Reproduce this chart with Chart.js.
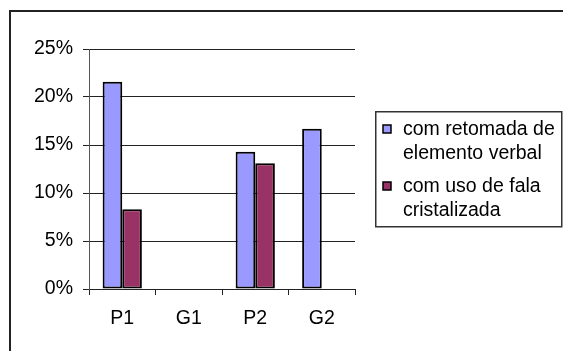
<!DOCTYPE html>
<html lang="pt">
<head>
    <meta charset="UTF-8">
    <title>Retomada de elemento verbal e fala cristalizada</title>
    <style>
        html, body {
            margin: 0;
            padding: 0;
            background: #ffffff;
        }
        .chart-box {
            position: relative;
            width: 563px;
            height: 351px;
        }
    </style>
    <script src="https://cdn.jsdelivr.net/npm/chart.js"></script>
</head>
<body>
    <div class="chart-box">
        <canvas id="grafico" width="563" height="351"></canvas>
    </div>

    <script>
        // grupos e percentuais
        const categorias = ['P1', 'G1', 'P2', 'G2'];
        const comRetomada = [21.6, 0, 14.3, 16.7];
        const comFalaCristalizada = [8.3, 0, 13.1, 0];
        const ticksY = [0, 5, 10, 15, 20, 25];

        // rótulos da legenda, quebrados em duas linhas
        const rotulos = [
            ['com retomada de', 'elemento verbal'],
            ['com uso de fala', 'cristalizada']
        ];

        const fonte = { family: "'Liberation Sans', Arial, sans-serif", size: 19.5 };

        // moldura externa e legenda com borda
        const molduraELegenda = {
            id: 'molduraELegenda',
            afterDraw(chart) {
                const ctx = chart.ctx;
                ctx.save();
                ctx.strokeStyle = '#222';
                ctx.lineWidth = 2;
                ctx.strokeRect(10, 11, 600, 400);

                ctx.lineWidth = 1.5;
                ctx.strokeStyle = '#333';
                ctx.strokeRect(375.75, 111.75, 186, 115);

                ctx.font = fonte.size + 'px ' + fonte.family;
                ctx.textBaseline = 'middle';
                chart.data.datasets.forEach((ds, i) => {
                    const y = 129 + i * 57;
                    ctx.fillStyle = ds.backgroundColor;
                    ctx.fillRect(383, y - 4, 8, 8);
                    ctx.strokeStyle = '#000';
                    ctx.lineWidth = 1.5;
                    ctx.strokeRect(383, y - 4, 8, 8);
                    ctx.fillStyle = '#000';
                    ds.linhas.forEach((linha, j) => {
                        ctx.fillText(linha, 403, y + 1 + j * 24);
                    });
                });
                ctx.restore();
            }
        };

        new Chart(document.getElementById('grafico'), {
            type: 'bar',
            data: {
                labels: categorias,
                datasets: [{
                    label: rotulos[0].join(' '),
                    linhas: rotulos[0],
                    data: comRetomada,
                    backgroundColor: '#9999ff',
                    borderColor: '#000',
                    borderWidth: 2,
                    borderSkipped: false,
                    categoryPercentage: 0.59,
                    barPercentage: 1
                }, {
                    label: rotulos[1].join(' '),
                    linhas: rotulos[1],
                    data: comFalaCristalizada,
                    backgroundColor: '#993366',
                    borderColor: '#000',
                    borderWidth: 2,
                    borderSkipped: false,
                    categoryPercentage: 0.59,
                    barPercentage: 1
                }]
            },
            options: {
                responsive: false,
                animation: false,
                devicePixelRatio: 1,
                layout: {
                    padding: { left: 0, right: 208, top: 49, bottom: 0 }
                },
                plugins: {
                    legend: { display: false },
                    tooltip: { enabled: false }
                },
                scales: {
                    x: {
                        grid: {
                            drawOnChartArea: false,
                            drawTicks: true,
                            tickLength: 6,
                            color: '#222'
                        },
                        border: { color: '#222', width: 1 },
                        ticks: {
                            font: fonte,
                            color: '#000',
                            padding: 12
                        },
                        afterFit(scale) { scale.height = 62; }
                    },
                    y: {
                        min: 0,
                        max: 25,
                        afterBuildTicks(scale) {
                            scale.ticks = ticksY.map(v => ({ value: v }));
                        },
                        grid: {
                            color: '#222',
                            tickLength: 6
                        },
                        border: { color: '#555', width: 1 },
                        ticks: {
                            font: fonte,
                            color: '#000',
                            padding: 10,
                            callback: v => v + '%'
                        },
                        afterFit(scale) { scale.width = 89; }
                    }
                }
            },
            plugins: [molduraELegenda]
        });
    </script>
</body>
</html>
